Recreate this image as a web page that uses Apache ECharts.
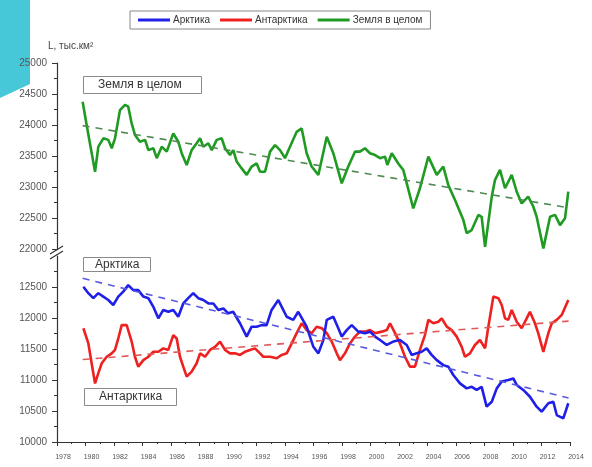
<!DOCTYPE html>
<html>
<head>
<meta charset="utf-8">
<script src="https://cdn.jsdelivr.net/npm/echarts@6/dist/echarts.min.js"></script>
<style>
  html, body { margin: 0; padding: 0; background: #fff; }
  #chart { width: 592px; height: 467px; }
</style>
</head>
<body>
<div id="chart"></div>
<script>
// Sea-ice extent, thousand km², smoothed series 1979–2013
const globalYears = [1979.80,1980.08,1980.67,1980.90,1981.25,1981.60,1981.84,1982.07,1982.42,1982.77,1983.00,1983.24,1983.47,1983.82,1984.18,1984.41,1984.76,1985.00,1985.35,1985.70,1986.16,1986.51,1986.75,1987.10,1987.45,1987.80,1988.04,1988.27,1988.62,1988.86,1989.21,1989.56,1989.79,1990.14,1990.37,1990.61,1990.96,1991.31,1991.66,1992.01,1992.25,1992.60,1992.95,1993.30,1993.65,1994.00,1994.35,1994.82,1995.17,1995.52,1995.87,1996.34,1996.93,1997.39,1997.98,1998.44,1998.91,1999.26,1999.61,1999.96,2000.32,2000.67,2001.02,2001.18,2001.49,2001.95,2002.30,2003.00,2003.47,2004.06,2004.65,2005.11,2005.46,2005.93,2006.51,2006.75,2007.10,2007.57,2007.80,2008.04,2008.51,2008.74,2009.09,2009.44,2009.91,2010.26,2010.61,2011.07,2011.42,2011.66,2012.13,2012.60,2012.95,2013.30,2013.65,2013.88];
const globalValues = [24375,24000,23245,23650,23785,23760,23625,23785,24240,24325,24295,24025,23840,23730,23760,23595,23625,23465,23650,23570,23865,23730,23545,23355,23595,23705,23785,23650,23705,23595,23760,23785,23625,23515,23595,23410,23300,23195,23330,23380,23245,23245,23570,23675,23595,23465,23650,23890,23945,23545,23330,23195,23810,23545,23060,23330,23570,23570,23625,23545,23515,23465,23490,23355,23545,23380,23275,22655,22980,23490,23195,23330,23030,22790,22470,22255,22305,22550,22520,22035,22845,23115,23275,22980,23195,22925,22735,22845,22685,22520,22010,22520,22550,22385,22495,22925];

const arcticYears = [1979.85,1980.20,1980.55,1980.90,1981.25,1981.60,1981.95,1982.30,1982.65,1983.00,1983.35,1983.70,1984.06,1984.41,1984.76,1985.11,1985.46,1985.81,1986.16,1986.51,1986.86,1987.21,1987.56,1987.92,1988.27,1988.62,1988.97,1989.32,1989.67,1990.02,1990.37,1990.84,1991.31,1991.66,1992.01,1992.36,1992.71,1993.06,1993.53,1993.77,1994.12,1994.58,1994.93,1995.52,1995.99,1996.34,1996.69,1996.93,1997.39,1997.74,1997.98,1998.33,1998.68,1999.14,1999.61,1999.96,2000.32,2000.67,2001.14,2001.60,2002.07,2002.54,2002.89,2003.24,2003.59,2003.94,2004.29,2004.65,2005.11,2005.46,2005.81,2006.28,2006.75,2007.10,2007.45,2007.80,2008.15,2008.51,2008.86,2009.21,2009.67,2010.02,2010.26,2010.72,2011.19,2011.66,2012.01,2012.48,2012.83,2013.07,2013.53,2013.88];
const arcticValues = [12505,12400,12320,12400,12345,12290,12210,12345,12425,12530,12450,12450,12345,12320,12180,11995,12130,12100,12130,12020,12235,12320,12400,12320,12290,12235,12235,12130,12155,12075,12100,11915,11700,11860,11860,11885,11885,12130,12290,12180,12020,11970,12100,11860,11535,11430,11645,11970,12020,11835,11700,11805,11885,11780,11755,11780,11700,11645,11565,11620,11645,11565,11405,11430,11455,11510,11405,11320,11240,11215,11080,10945,10865,10890,10840,10890,10570,10650,10865,10975,11000,11025,10920,10840,10730,10570,10490,10625,10650,10435,10380,10625];

const antarcticYears = [1979.85,1980.20,1980.43,1980.67,1980.90,1981.14,1981.49,1981.84,1982.07,1982.30,1982.54,1982.89,1983.24,1983.47,1983.70,1984.06,1984.41,1984.76,1985.11,1985.46,1985.81,1986.16,1986.40,1986.63,1986.86,1987.10,1987.45,1987.80,1988.04,1988.39,1988.74,1989.09,1989.44,1989.79,1990.14,1990.49,1990.84,1991.19,1991.54,1991.89,1992.25,1992.48,1992.95,1993.42,1993.77,1994.12,1994.47,1994.82,1995.17,1995.52,1995.87,1996.22,1996.58,1996.93,1997.28,1997.63,1997.86,1998.21,1998.56,1998.91,1999.26,1999.61,1999.96,2000.32,2000.79,2001.14,2001.37,2001.72,2002.07,2002.42,2002.77,2003.12,2003.47,2003.82,2004.06,2004.41,2004.76,2005.00,2005.35,2005.70,2006.05,2006.40,2006.63,2006.98,2007.33,2007.68,2008.04,2008.27,2008.62,2008.97,2009.21,2009.44,2009.67,2009.91,2010.26,2010.61,2010.96,2011.19,2011.54,2011.77,2012.13,2012.48,2012.72,2013.07,2013.42,2013.88];
const antarcticValues = [11835,11590,11270,10945,11110,11270,11375,11430,11485,11670,11885,11885,11620,11375,11215,11320,11375,11455,11455,11510,11485,11725,11670,11375,11215,11055,11135,11270,11430,11375,11485,11535,11620,11485,11430,11430,11405,11455,11485,11510,11430,11375,11375,11350,11405,11430,11590,11755,11915,11805,11755,11860,11835,11755,11620,11430,11320,11430,11590,11700,11780,11780,11805,11755,11780,11805,11915,11755,11590,11375,11215,11215,11485,11725,11970,11915,11940,11995,11860,11805,11700,11535,11375,11430,11565,11645,11510,11860,12345,12320,12210,11995,11970,12130,11940,11835,11995,12100,11915,11755,11455,11755,11915,11970,12050,12290];

// Linear trends: [start year, end year] and fitted values at those years
const trendYears = [1979.8, 2013.9];
const globalTrend = [23990, 22665];
const arcticTrend = [12640, 10710];
const antarcticTrend = [11330, 11950];

// Tick labels
const xTickYears = [1978,1980,1982,1984,1986,1988,1990,1992,1994,1996,1998,2000,2002,2004,2006,2008,2010,2012,2014];
const upperTicks = [22000,22500,23000,23500,24000,24500,25000];
const lowerTicks = [10000,10500,11000,11500,12000,12500];

const seriesNames = ['Арктика', 'Антарктика', 'Земля в целом'];
const colors = { arctic: '#1f1fe8', antarctic: '#ee2020', global: '#1f9a22' };

const pairs = (xs, ys) => xs.map((x, i) => [x, ys[i]]);

const FONT = '"Liberation Sans", Arial, sans-serif';
const axisText = { color: '#555', fontFamily: FONT };
const plain = v => String(v);

const chart = echarts.init(document.getElementById('chart'), null, { renderer: 'canvas' });

const boxTitle = (text, left, top, pad) => ({
  text, left, top,
  borderColor: '#8a8a8a', borderWidth: 1,
  padding: pad,
  textStyle: { fontSize: 12, fontWeight: 'normal', color: '#333', fontFamily: FONT }
});

chart.setOption({
  animation: false,
  backgroundColor: '#fff',
  title: [
    { text: 'L, тыс.км²', left: 48, top: 41, padding: 0,
      textStyle: { fontSize: 10, fontWeight: 'normal', color: '#444', fontFamily: FONT } },
    boxTitle('Земля в целом', 83, 76, [3, 20, 3, 15]),
    boxTitle('Арктика', 83, 257, [2, 11, 1, 12]),
    boxTitle('Антарктика', 84, 388, [3, 15, 3, 15])
  ],
  legend: {
    data: seriesNames,
    left: 130, top: 11,
    padding: [4, 8],
    itemGap: 10,
    itemWidth: 32, itemHeight: 3,
    icon: 'rect',
    borderColor: '#888', borderWidth: 1,
    textStyle: { fontSize: 10, color: '#333', fontFamily: FONT, padding: [0, 0, 0, -2] }
  },
  grid: [
    { left: 57, top: 63, width: 513, height: 186 },
    { left: 57, top: 256, width: 513, height: 186 }
  ],
  xAxis: [
    { gridIndex: 0, type: 'value', min: 1978, max: 2014, interval: 2, show: false },
    { gridIndex: 1, type: 'value', min: 1978, max: 2014, interval: 2,
      axisLine: { lineStyle: { color: '#333', width: 1.2 } },
      axisTick: { length: 4, lineStyle: { color: '#333' } },
      minorTick: { show: true, splitNumber: 2, length: 2, lineStyle: { color: '#333' } },
      splitLine: { show: false },
      axisLabel: { ...axisText, fontSize: 7, margin: 12, padding: [0, 0, 0, 12],
        customValues: xTickYears, formatter: plain }
    }
  ],
  yAxis: [
    { gridIndex: 0, type: 'value', min: 22000, max: 25000, interval: 500,
      axisLine: { show: true, lineStyle: { color: '#333', width: 1.2 } },
      axisTick: { show: true, length: 5, lineStyle: { color: '#333' } },
      minorTick: { show: true, splitNumber: 2, length: 3, lineStyle: { color: '#333' } },
      splitLine: { show: false },
      axisLabel: { ...axisText, fontSize: 10, margin: 10, customValues: upperTicks, formatter: plain }
    },
    { gridIndex: 1, type: 'value', min: 10000, max: 13000, interval: 500,
      axisLine: { show: true, lineStyle: { color: '#333', width: 1.2 } },
      axisTick: { show: true, length: 5, lineStyle: { color: '#333' }, customValues: lowerTicks },
      minorTick: { show: true, splitNumber: 2, length: 3, lineStyle: { color: '#333' } },
      splitLine: { show: false },
      axisLabel: { ...axisText, fontSize: 10, margin: 10, customValues: lowerTicks, formatter: plain }
    }
  ],
  graphic: [
    // teal slide corner at top left
    { type: 'polygon', silent: true, z: -10,
      shape: { points: [[0, 0], [30, 0], [30, 84], [0, 98]] },
      style: { fill: '#46c8d8' } },
    // axis break marks
    { type: 'rect', silent: true, z: 100,
      shape: { x: 50, y: 250, width: 14, height: 5 }, style: { fill: '#fff' } },
    { type: 'line', silent: true, z: 101,
      shape: { x1: 50, y1: 254, x2: 63, y2: 246 }, style: { stroke: '#333', lineWidth: 1.2 } },
    { type: 'line', silent: true, z: 101,
      shape: { x1: 50, y1: 259, x2: 63, y2: 251 }, style: { stroke: '#333', lineWidth: 1.2 } }
  ],
  series: [
    { name: 'Арктика', type: 'line', xAxisIndex: 1, yAxisIndex: 1,
      data: pairs(arcticYears, arcticValues), showSymbol: false, z: 3,
      color: colors.arctic, lineStyle: { width: 2.6, color: colors.arctic } },
    { name: 'Антарктика', type: 'line', xAxisIndex: 1, yAxisIndex: 1,
      data: pairs(antarcticYears, antarcticValues), showSymbol: false, z: 2,
      color: colors.antarctic, lineStyle: { width: 2.6, color: colors.antarctic } },
    { name: 'Земля в целом', type: 'line', xAxisIndex: 0, yAxisIndex: 0,
      data: pairs(globalYears, globalValues), showSymbol: false, z: 2,
      color: colors.global, lineStyle: { width: 2.6, color: colors.global } },
    { name: 'trend-arctic', type: 'line', xAxisIndex: 1, yAxisIndex: 1,
      data: pairs(trendYears, arcticTrend), showSymbol: false, z: 4,
      lineStyle: { width: 1.6, type: [7, 6], color: '#5a5ae0' } },
    { name: 'trend-antarctic', type: 'line', xAxisIndex: 1, yAxisIndex: 1,
      data: pairs(trendYears, antarcticTrend), showSymbol: false, z: 4,
      lineStyle: { width: 1.6, type: [7, 6], color: '#e05a5a' } },
    { name: 'trend-global', type: 'line', xAxisIndex: 0, yAxisIndex: 0,
      data: pairs(trendYears, globalTrend), showSymbol: false, z: 4,
      lineStyle: { width: 1.6, type: [7, 6], color: '#4f8a52' } }
  ]
});
</script>
</body>
</html>
